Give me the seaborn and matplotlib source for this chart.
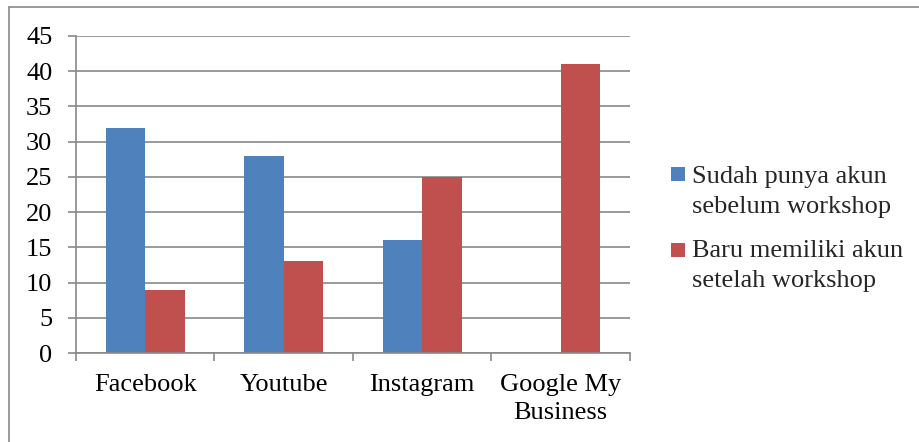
import matplotlib
matplotlib.use("Agg")
import matplotlib.pyplot as plt
import seaborn as sns
import pandas as pd
from matplotlib.patches import Rectangle
from matplotlib.lines import Line2D

categories = ["Facebook", "Youtube", "Instagram", "Google My\nBusiness"]
series_names = ["Sudah punya akun\nsebelum workshop", "Baru memiliki akun\nsetelah workshop"]
sudah = [32, 28, 16, 0]
baru = [9, 13, 25, 41]
colors = ["#4F81BD", "#C0504D"]
yticks = [0, 5, 10, 15, 20, 25, 30, 35, 40, 45]

df = pd.DataFrame({
    "kategori": categories * 2,
    "nilai": sudah + baru,
    "seri": [series_names[0]] * 4 + [series_names[1]] * 4,
})

sns.set_theme(style="white")
plt.rcParams["font.family"] = ["Liberation Serif", "DejaVu Serif"]
fs = 19
grey = "#898989"

W, H = 920, 442
fig = plt.figure(figsize=(9.2, 4.42), dpi=100)
ax = fig.add_axes([76 / W, 1 - 353 / H, (630 - 76) / W, (353 - 36) / H])

sns.barplot(data=df, x="kategori", y="nilai", hue="seri", palette=colors,
            width=0.572, ax=ax, legend=False, saturation=1, errorbar=None,
            linewidth=0)

ax.set_xlim(-0.5, 3.5)
ax.set_ylim(0, 45)
ax.set_yticks(yticks)
ax.set_yticklabels([str(t) for t in yticks], fontsize=fs)
ax.set_xlabel("")
ax.set_ylabel("")
ax.set_xticks(range(4))
ax.set_xticklabels(categories, fontsize=fs, linespacing=1.36)
ax.set_xticks([-0.5, 0.5, 1.5, 2.5, 3.5], minor=True)
ax.tick_params(axis="x", which="major", bottom=True, length=0, pad=15, labelcolor="black")
ax.tick_params(axis="x", which="minor", bottom=True, length=5.5, width=1.2, color=grey, direction="out")
ax.tick_params(axis="y", which="major", left=True, length=6, width=1.2, color=grey,
               direction="out", pad=11, labelcolor="black")

ax.yaxis.grid(True, color=grey, linewidth=1.2)
ax.set_axisbelow(True)
for s in ["top", "right"]:
    ax.spines[s].set_visible(False)
for s in ["left", "bottom"]:
    ax.spines[s].set_visible(True)
    ax.spines[s].set_color(grey)
    ax.spines[s].set_linewidth(1.2)

# legend drawn manually: handle aligned with first line of each label
leg_top = [167, 243]
baselines = [(183, 213), (257, 287)]
for c, name, top, (b1, b2) in zip(colors, series_names, leg_top, baselines):
    fig.patches.append(Rectangle((671 / W, 1 - (top + 14) / H), 14 / W, 14 / H,
                                 transform=fig.transFigure, facecolor=c, edgecolor="none"))
    l1, l2 = name.split("\n")
    fig.text(692 / W, 1 - b1 / H, l1, fontsize=fs, va="baseline", ha="left")
    fig.text(692 / W, 1 - b2 / H, l2, fontsize=fs, va="baseline", ha="left")

# chart-area border: only top and left edges are visible in the reference
fig.add_artist(Line2D([9.5 / W, 9.5 / W], [0, 1 - 6.5 / H], transform=fig.transFigure,
                      color=grey, linewidth=1.2))
fig.add_artist(Line2D([9.5 / W, 1], [1 - 6.5 / H, 1 - 6.5 / H], transform=fig.transFigure,
                      color=grey, linewidth=1.2))

fig.savefig("out.png", dpi=100)
